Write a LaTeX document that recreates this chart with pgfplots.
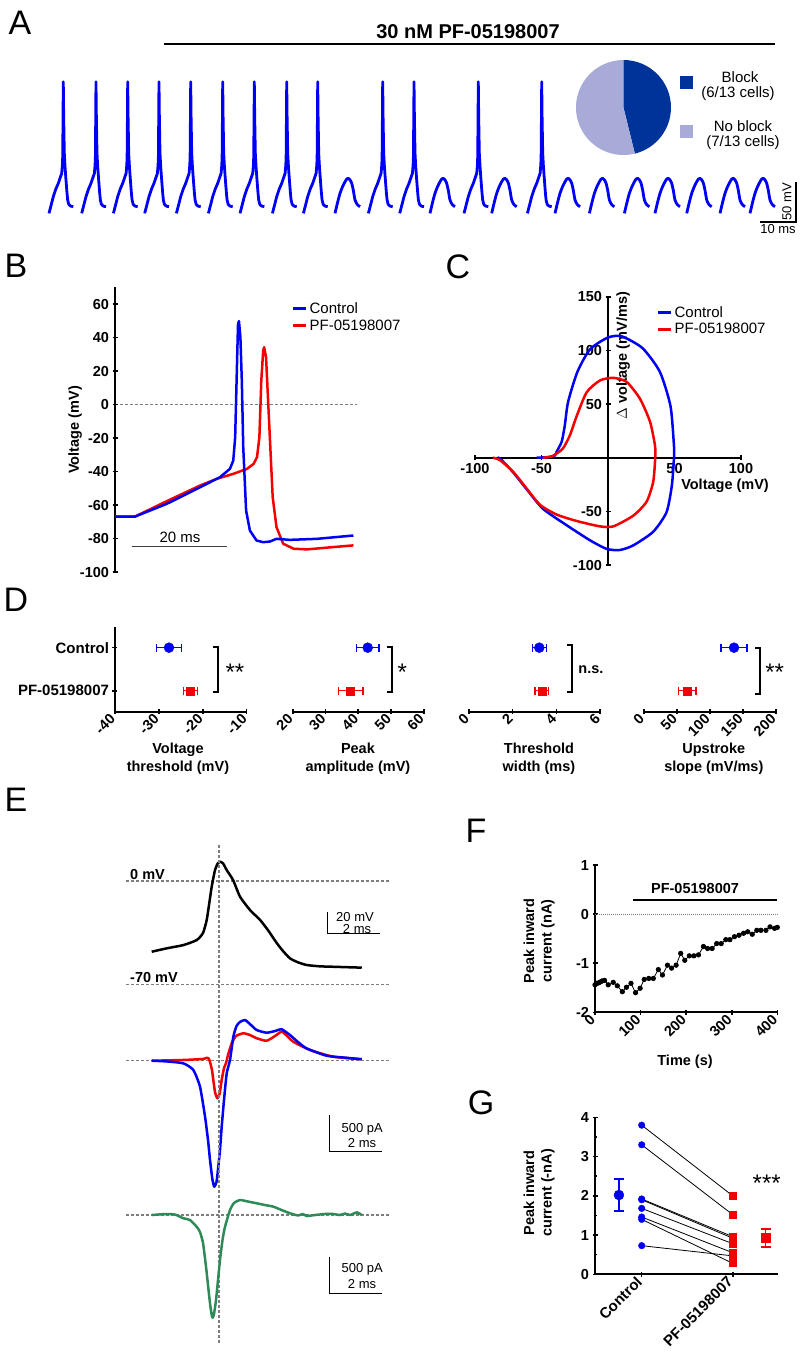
\documentclass[border=0pt]{standalone}
\usepackage{fontspec}
\setmainfont{Liberation Sans}
\usepackage{pgfplots}
\usepackage{pgfplotstable}
\pgfplotsset{compat=1.18}

% colours
\definecolor{ctrl}{RGB}{0,0,245}
\definecolor{drug}{RGB}{245,0,0}
\definecolor{blockc}{RGB}{0,51,153}
\definecolor{noblockc}{RGB}{168,170,216}
\definecolor{diffc}{RGB}{46,139,87}
\definecolor{dgray}{RGB}{125,125,125}

\newcommand{\tickf}{\bfseries\fontsize{14.5}{17}\selectfont}
\newcommand{\labf}{\bfseries\fontsize{14.5}{17.5}\selectfont}
\newcommand{\legf}{\fontsize{15}{18}\selectfont}
\newcommand{\smallf}{\fontsize{13}{15}\selectfont}
\newcommand{\panf}{\fontsize{34}{36}\selectfont}
\newcommand{\starf}{\fontsize{24}{26}\selectfont}

\pgfplotsset{
  panel/.style={
    scale only axis, anchor=south west, clip=false,
    axis line style={line width=2pt,-},
    every non boxed x axis/.append style={x axis line style={-}},
    every non boxed y axis/.append style={y axis line style={-}},
    tick style={line width=1.6pt,black},
    major tick length=5pt,
    tick align=outside,
    ticklabel style={font=\tickf},
    label style={font=\labf},
    /pgf/number format/assume math mode=true,
  },
  noarrow/.style={axis line style={-}, x axis line style={-}, y axis line style={-}},
  trace/.style={line width=2.5pt, line join=round, mark=none},
  legline/.style={
    legend style={draw=none, fill=none, font=\legf, inner sep=0pt,
      row sep=1pt, anchor=north west},
    legend cell align=left,
    legend image code/.code={\draw[##1, line width=2.5pt] (0pt,0pt) -- (13pt,0pt);},
  },
  dstat/.style={
    error bars/.cd, x dir=both, x explicit,
    error bar style={line width=1.5pt},
    error mark options={line width=1.5pt, mark size=4pt, rotate=90},
  },
  gstat/.style={
    error bars/.cd, y dir=both, y explicit,
    error bar style={line width=1.5pt},
    error mark options={line width=1.5pt, mark size=5pt, rotate=90},
  },
}

% one action potential and one failed spike, (ms, mV) from the start of the sweep
\pgfplotstableread{
t v
0 -70.4
0.6 -60
1.19 -49.6
1.9 -40
2.58 -32.9
3.1 -26
3.53 -20.4
3.72 -10
3.81 0.4
3.9 50
3.97 94.1
4.08 50
4.25 5
4.45 -12
4.72 -28.75
5.0 -45
5.19 -53.75
5.45 -58.5
5.64 -60
6.1 -61.5
6.75 -62.1
}\spiketab
\pgfplotstableread{
t v
0 -70.4
0.7 -57
1.39 -45.4
2.1 -37
2.78 -30.9
3.25 -27.5
3.69 -26.6
4.15 -28.5
4.64 -32.9
5.1 -42
5.56 -53.75
6.2 -59.5
6.94 -62.1
}\bumptab

\begin{document}
\begin{tikzpicture}
\useasboundingbox (0pt,0pt) rectangle (800pt,-1369pt);

% panel letters and title
\node[font=\panf] at (20pt,-23pt) {A};
\node[font=\panf] at (16pt,-266pt) {B};
\node[font=\panf] at (458pt,-267pt) {C};
\node[font=\panf] at (16pt,-600pt) {D};
\node[font=\panf] at (16pt,-800pt) {E};
\node[font=\panf] at (476pt,-831pt) {F};
\node[font=\panf] at (481pt,-1103pt) {G};
\node[font=\bfseries\fontsize{20}{22}\selectfont] at (468pt,-32pt) {30 nM PF-05198007};

% ---------------- A
\begin{axis}[panel, hide axis, at={(0pt,-230pt)}, width=800pt, height=170pt,
  xmin=0, xmax=222.22, ymin=-91.25, ymax=121.25]
\pgfplotsinvokeforeach{13.61,22.69,31.5,40.19,49,57.89,66.67,75.67,84.28,102.33,111.03,128.89,146.5}{
  \addplot[trace, ctrl, line width=2.8pt] table[x expr=\thisrow{t}+#1, y=v]{\spiketab};
}
\pgfplotsinvokeforeach{93.06,119.44,136.58,154.17,163.72,173.44,181.94,190.75,200,208.33}{
  \addplot[trace, ctrl, line width=2.8pt, smooth] table[x expr=\thisrow{t}+#1, y=v]{\bumptab};
}
\draw[line width=2.5pt] (axis cs:45.56,141.25) -- (axis cs:215.28,141.25);
% pie: 6 of 13 cells blocked
\fill[blockc] (axis cs:173.19,61.875) -- ++(90:47.5pt) arc[start angle=90, end angle=-76.15, radius=47.5pt] -- cycle;
\fill[noblockc] (axis cs:173.19,61.875) -- ++(-76.15:47.5pt) arc[start angle=-76.15, end angle=-270, radius=47.5pt] -- cycle;
\fill[blockc] (axis cs:188.89,101.25) rectangle (axis cs:192.5,85);
\fill[noblockc] (axis cs:188.89,40) rectangle (axis cs:192.5,23.75);
\node[font=\legf] at (axis cs:205.56,100) {Block};
\node[font=\legf] at (axis cs:205,78.75) {(6/13 cells)};
\node[font=\legf] at (axis cs:206.4,38.75) {No block};
\node[font=\legf] at (axis cs:206.4,17.5) {(7/13 cells)};
% scale bars
\draw[line width=1.3pt] (axis cs:211.1,-81.25) -- (axis cs:221.1,-81.25) -- (axis cs:221.1,-31.25);
\node[font=\smallf, rotate=90] at (axis cs:218.6,-56.25) {50 mV};
\node[font=\smallf] at (axis cs:216.1,-89.5) {10 ms};
\end{axis}

% ---------------- B
\begin{axis}[panel, legline, at={(115pt,-572pt)}, width=242pt, height=284.75pt,
  xmin=0, xmax=50.95, ymin=-100, ymax=70,
  axis x line=none, axis y line=left,
  ytick={-100,-80,-60,-40,-20,0,20,40,60},
  yticklabels={-100,-80,-60,-40,-20,0,20,40,60},
  ylabel={Voltage (mV)},
  every axis y label/.style={at={(axis description cs:-0.165,0.499)}, rotate=90, anchor=center, font=\labf},
  legend style={at={(axis description cs:0.731,0.955)}}, noarrow]
\addplot[forget plot, dashed, dash pattern=on 3pt off 2pt, line width=1.2pt, dgray] coordinates {(1.05,0) (50.95,0)};
\addplot[forget plot, trace, drug] coordinates {
(0,-66.9)(4.21,-66.9)(10.9,-57.7)(17.9,-48.4)(21.4,-44.4)(24.9,-41.4)(27.8,-38.4)(29.2,-35.4)(29.9,-31.4)(30.4,-19.5)(30.8,14.3)(31.2,32.2)(31.4,34.2)(31.8,28.3)(32.2,4.4)(32.7,-25.5)(33.2,-55.3)(34.0,-73.2)(35.4,-83.1)(37.6,-86.1)(40.4,-86.5)(46.0,-85.1)(50.2,-84.1)};
\addplot[forget plot, trace, ctrl] coordinates {
(0,-66.9)(4.21,-66.9)(10.9,-59.3)(17.9,-49.4)(22.1,-43.4)(24.2,-38.4)(24.9,-33.4)(25.3,-19.5)(25.6,14.3)(25.9,48.2)(26.1,49.8)(26.4,40.2)(26.7,14.3)(27.0,-25.5)(27.6,-63.3)(28.4,-75.2)(29.8,-81.2)(31.2,-82.2)(32.6,-81.8)(34.0,-80.2)(36.8,-80.8)(42.5,-80.2)(50.2,-78.2)};
\draw[line width=1.2pt, black!75] (axis cs:3.58,-84.8) -- (axis cs:23.58,-84.8);
\node[font=\legf] at (axis cs:13.7,-79.2) {20 ms};
\addlegendimage{ctrl}\addlegendentry{Control}
\addlegendimage{drug}\addlegendentry{PF-05198007}
\end{axis}

% ---------------- C
\begin{axis}[panel, legline, at={(475pt,-565pt)}, width=266pt, height=268.3pt,
  xmin=-100, xmax=100, ymin=-100, ymax=150, axis lines=middle,
  xtick={-100,-50,50,100}, xticklabels={-100,-50,50,100},
  ytick={-100,-50,50,100,150}, yticklabels={-100,-50,50,100,150},
  legend style={at={(axis description cs:0.684,0.973)}}, noarrow]
\node[font=\labf, rotate=90] at (axis cs:11.3,95) {$\Delta$ voltage (mV/ms)};
\node[font=\labf] at (axis cs:88,-26) {Voltage (mV)};
\addplot[forget plot, trace, ctrl, smooth, tension=0.4] coordinates {
(-53.6,0)(-45,0.5)(-40,2)(-38.6,5.6)(-34.8,15)(-32.5,30)(-30,52)(-23,80)(-13.5,101)(0,112)(10.5,113)(26,102)(39,80)(47,48)(49.6,11)(49.6,0)(48,-26)(44,-50.8)(34,-69)(19,-81.7)(9,-86)(-1,-85)(-13.5,-77)(-31,-63)(-49,-47.5)(-61.4,-29)(-71.5,-13.4)(-81,-1)(-83,0)};
\addplot[forget plot, trace, drug, smooth, tension=0.4] coordinates {
(-49,0)(-45,0.5)(-41,2)(-34,8.4)(-28.6,21)(-23.5,39)(-16,61)(-6,72)(4,74.4)(14,70.6)(24,55)(31.6,33.5)(35.3,11.5)(35.5,0)(34,-22.4)(29,-41)(19,-54)(4,-64)(-6,-64)(-23.5,-59)(-38.6,-53)(-51,-44)(-61,-29)(-71.4,-13)(-81,-2.5)(-86.5,0)};
\addlegendimage{ctrl}\addlegendentry{Control}
\addlegendimage{drug}\addlegendentry{PF-05198007}
\end{axis}

% ---------------- D
\begin{axis}[panel, at={(115pt,-711.7pt)}, width=131.7pt, height=84.7pt,
  xmin=-40, xmax=-10, ymin=-0.488, ymax=1.48,
  axis x line=bottom, axis y line=left,
  xtick={-40,-30,-20,-10}, xticklabels={-40,-30,-20,-10},
  ytick={0,1}, yticklabels={PF-05198007,Control},
  xticklabel style={rotate=45, anchor=east},
  yticklabel style={font=\bfseries\fontsize{15}{17}\selectfont},
  xlabel={Voltage\\threshold (mV)},
  every axis x label/.style={at={(axis description cs:0.478,-0.553)}, anchor=center, align=center, font=\labf}, noarrow]
\addplot[ctrl, mark=*, mark size=5pt, only marks, dstat] coordinates {(-27.7,1) +- (2.9,0)};
\addplot[drug, mark=square*, mark size=4pt, only marks, dstat] coordinates {(-22.8,0) +- (1.6,0)};
\draw[line width=2pt] (axis cs:-17.6,1.02) -- (axis cs:-16.5,1.02) -- (axis cs:-16.5,-0.02) -- (axis cs:-17.6,-0.02);
\node[font=\starf] at (axis cs:-12.7,0.42) {**};
\end{axis}

\begin{axis}[panel, at={(292.7pt,-711.7pt)}, width=131pt, height=84.7pt,
  xmin=20, xmax=60, ymin=-0.488, ymax=1.48,
  axis x line=bottom, axis y line=none, ytick=\empty,
  xtick={20,30,40,50,60}, xticklabels={20,30,40,50,60},
  xticklabel style={rotate=45, anchor=east},
  xlabel={Peak\\amplitude (mV)},
  every axis x label/.style={at={(axis description cs:0.498,-0.553)}, anchor=center, align=center, font=\labf}, noarrow]
\addplot[ctrl, mark=*, mark size=5pt, only marks, dstat] coordinates {(42.9,1) +- (3.4,0)};
\addplot[drug, mark=square*, mark size=4pt, only marks, dstat] coordinates {(37.7,0) +- (3.7,0)};
\draw[line width=2pt] (axis cs:48.8,1.02) -- (axis cs:50.3,1.02) -- (axis cs:50.3,-0.02) -- (axis cs:48.8,-0.02);
\node[font=\starf] at (axis cs:53.5,0.42) {*};
\end{axis}

\begin{axis}[panel, at={(469pt,-711.7pt)}, width=131pt, height=84.7pt,
  xmin=0, xmax=6, ymin=-0.488, ymax=1.48,
  axis x line=bottom, axis y line=none, ytick=\empty,
  xtick={0,2,4,6}, xticklabels={0,2,4,6},
  xticklabel style={rotate=45, anchor=east},
  xlabel={Threshold\\width (ms)},
  every axis x label/.style={at={(axis description cs:0.534,-0.553)}, anchor=center, align=center, font=\labf}, noarrow]
\addplot[ctrl, mark=*, mark size=5pt, only marks, dstat] coordinates {(3.22,1) +- (0.32,0)};
\addplot[drug, mark=square*, mark size=4pt, only marks, dstat] coordinates {(3.33,0) +- (0.3,0)};
\draw[line width=2pt] (axis cs:4.47,1.06) -- (axis cs:4.7,1.06) -- (axis cs:4.7,-0.02) -- (axis cs:4.47,-0.02);
\node[font=\labf, anchor=west] at (axis cs:4.85,0.5) {n.s.};
\end{axis}

\begin{axis}[panel, at={(644pt,-711.7pt)}, width=131.7pt, height=84.7pt,
  xmin=0, xmax=200, ymin=-0.488, ymax=1.48,
  axis x line=bottom, axis y line=none, ytick=\empty,
  xtick={0,50,100,150,200}, xticklabels={0,50,100,150,200},
  xticklabel style={rotate=45, anchor=east},
  xlabel={Upstroke\\slope (mV/ms)},
  every axis x label/.style={at={(axis description cs:0.53,-0.553)}, anchor=center, align=center, font=\labf}, noarrow]
\addplot[ctrl, mark=*, mark size=5pt, only marks, dstat] coordinates {(136.7,1) +- (20,0)};
\addplot[drug, mark=square*, mark size=4pt, only marks, dstat] coordinates {(65.8,0) +- (13.5,0)};
\draw[line width=2pt] (axis cs:168.7,1.0) -- (axis cs:176.3,1.0) -- (axis cs:176.3,-0.077) -- (axis cs:168.7,-0.077);
\node[font=\starf, anchor=west] at (axis cs:179,0.42) {**};
\end{axis}

% ---------------- E, voltage
\begin{axis}[panel, hide axis, at={(126pt,-991.7pt)}, width=263pt, height=140.2pt,
  xmin=-3.577, xmax=6.538, ymin=-75, ymax=20]
\addplot[dashed, dash pattern=on 3pt off 2pt, line width=1.4pt, dgray] coordinates {(-3.577,0) (6.538,0)};
\addplot[dashed, dash pattern=on 3pt off 2pt, line width=1.4pt, dgray] coordinates {(-3.577,-70) (6.538,-70)};
\addplot[trace, black, smooth, tension=0.35] coordinates {
(-2.588,-47.9)(-2.01,-45.6)(-1.37,-43.4)(-0.858,-40)(-0.615,-35.2)(-0.473,-26.4)(-0.385,-16.3)(-0.281,-3.9)(-0.154,7.45)(-0.04,12.2)(0.038,13.1)(0.154,12)(0.296,7.45)(0.54,0.7)(0.808,-10.6)(1.19,-19.6)(1.58,-26.4)(1.88,-33.2)(2.22,-42)(2.46,-47.4)(2.73,-52.4)(3.04,-55.1)(3.37,-56.9)(3.88,-57.8)(4.4,-58.1)(5.49,-58.7)};
\node[font=\labf, anchor=base west] at (axis cs:-3.55,1.1) {0 mV};
\node[font=\labf, anchor=base west] at (axis cs:-3.55,-68.6) {-70 mV};
\draw[line width=1.2pt] (axis cs:4.18,-20.8) -- (axis cs:4.18,-35.4) -- (axis cs:6.19,-35.4);
\node[font=\smallf] at (axis cs:5.23,-24.2) {20 mV};
\node[font=\smallf] at (axis cs:5.31,-32.2) {2 ms};
\end{axis}

% ---------------- E, currents
\begin{axis}[panel, hide axis, at={(126pt,-1192.8pt)}, width=263pt, height=190.8pt,
  xmin=-3.577, xmax=6.538, ymin=-0.9, ymax=0.4]
\addplot[dashed, dash pattern=on 3pt off 2pt, line width=1.4pt, dgray] coordinates {(-3.577,0) (6.538,0)};
\addplot[trace, drug, smooth, tension=0.35] coordinates {
(-2.588,0)(-1.37,0.005)(-0.615,0.012)(-0.473,0.02)(-0.396,0.015)(-0.346,-0.009)(-0.27,-0.063)(-0.219,-0.131)(-0.154,-0.213)(-0.065,-0.256)(0.02,-0.227)(0.104,-0.131)(0.192,-0.05)(0.27,-0.016)(0.346,0.039)(0.488,0.119)(0.654,0.168)(0.935,0.187)(1.19,0.175)(1.45,0.153)(1.83,0.136)(2.15,0.168)(2.41,0.198)(2.62,0.168)(2.86,0.129)(3.5,0.073)(4.4,0.027)(5.49,0.01)};
\addplot[trace, ctrl, smooth, tension=0.35] coordinates {
(-2.588,0)(-2.01,-0.005)(-1.37,-0.018)(-0.988,-0.063)(-0.731,-0.177)(-0.538,-0.381)(-0.423,-0.54)(-0.346,-0.676)(-0.25,-0.813)(-0.181,-0.858)(-0.096,-0.826)(-0.027,-0.722)(0.038,-0.608)(0.104,-0.45)(0.192,-0.268)(0.296,-0.086)(0.423,0.005)(0.55,0.163)(0.673,0.236)(0.808,0.264)(1.0,0.277)(1.19,0.25)(1.45,0.209)(1.83,0.191)(2.15,0.202)(2.41,0.214)(2.73,0.175)(3.04,0.127)(3.37,0.084)(4.14,0.034)(4.91,0.02)(5.49,0.01)};
\draw[line width=1.2pt] (axis cs:4.24,-0.37) -- (axis cs:4.24,-0.62) -- (axis cs:6.26,-0.62);
\node[font=\smallf] at (axis cs:5.51,-0.467) {500 pA};
\node[font=\smallf] at (axis cs:5.5,-0.56) {2 ms};
\end{axis}

% ---------------- E, difference current
\begin{axis}[panel, hide axis, at={(126pt,-1347.1pt)}, width=263pt, height=154.1pt,
  xmin=-3.577, xmax=6.538, ymin=-0.9, ymax=0.15]
\addplot[dashed, dash pattern=on 3pt off 2pt, line width=1.4pt, dgray] coordinates {(-3.577,0) (6.538,0)};
\addplot[dashed, dash pattern=on 3pt off 2pt, line width=1.4pt, dgray] coordinates {(0,-0.872) (0,2.52)};
\addplot[trace, diffc, smooth, tension=0.35] coordinates {
(-2.588,0)(-2.01,0.007)(-1.69,0.003)(-1.37,-0.022)(-1.115,-0.034)(-0.858,-0.08)(-0.731,-0.116)(-0.615,-0.191)(-0.5,-0.352)(-0.423,-0.477)(-0.346,-0.601)(-0.288,-0.674)(-0.242,-0.7)(-0.192,-0.674)(-0.115,-0.579)(-0.038,-0.443)(0.038,-0.307)(0.135,-0.17)(0.231,-0.08)(0.423,0.034)(0.577,0.082)(0.808,0.102)(1.115,0.092)(1.45,0.08)(1.77,0.068)(2.09,0.057)(2.41,0.034)(2.73,0.012)(3.04,-0.003)(3.23,0.007)(3.37,-0.007)(3.69,0)(4.08,0.007)(4.4,0.007)(4.65,0)(4.85,0.01)(5.04,0)(5.3,0.018)(5.49,0)};
\draw[line width=1.2pt] (axis cs:4.24,-0.284) -- (axis cs:4.24,-0.533) -- (axis cs:6.26,-0.533);
\node[font=\smallf] at (axis cs:5.51,-0.37) {500 pA};
\node[font=\smallf] at (axis cs:5.5,-0.47) {2 ms};
\end{axis}

% ---------------- F
\begin{axis}[panel, at={(595pt,-1012.3pt)}, width=182.3pt, height=147.3pt,
  xmin=0, xmax=400, ymin=-2, ymax=1,
  axis x line=bottom, axis y line=left,
  xtick={0,100,200,300,400}, xticklabels={0,100,200,300,400},
  ytick={-2,-1,0,1}, yticklabels={-2,-1,0,1},
  xticklabel style={rotate=45, anchor=east},
  xlabel={Time (s)},
  every axis x label/.style={at={(axis description cs:0.494,-0.335)}, anchor=center, font=\labf},
  ylabel={Peak inward\\current (nA)},
  every axis y label/.style={at={(axis description cs:-0.307,0.484)}, rotate=90, anchor=center, align=center, font=\labf}, noarrow]
\addplot[densely dotted, line width=1pt, dgray] coordinates {(0,0) (400,0)};
\addplot[black, line width=0.8pt, mark=*, mark size=2.2pt] coordinates {
(0,-1.44)(4,-1.41)(8,-1.40)(12,-1.38)(16,-1.36)(21,-1.35)(29,-1.44)(40,-1.39)(49,-1.46)(60,-1.58)(69,-1.49)(79,-1.41)(89,-1.60)(99,-1.51)(108,-1.33)(118,-1.31)(128,-1.31)(139,-1.13)(148,-1.24)(159,-1.04)(168,-1.10)(178,-1.04)(188,-0.80)(197,-0.94)(207,-0.85)(217,-0.85)(227,-0.83)(238,-0.66)(247,-0.70)(257,-0.70)(267,-0.60)(277,-0.60)(287,-0.52)(296,-0.52)(306,-0.46)(316,-0.43)(326,-0.39)(335,-0.36)(345,-0.41)(355,-0.33)(364,-0.33)(375,-0.33)(384,-0.26)(394,-0.29)(400,-0.27)};
\draw[line width=2.5pt] (axis cs:84,0.285) -- (axis cs:400,0.285);
\node[font=\labf] at (axis cs:219.5,0.53) {PF-05198007};
\end{axis}

% ---------------- G
\begin{axis}[panel, at={(595pt,-1274.3pt)}, width=183.3pt, height=157pt,
  xmin=0.487, xmax=2.501, ymin=0, ymax=4,
  axis x line=bottom, axis y line=left,
  xtick={1,2}, xticklabels={Control,PF-05198007},
  ytick={0,1,2,3,4}, yticklabels={0,1,2,3,4},
  minor ytick={0.5,1.5,2.5,3.5}, minor tick length=3pt,
  xticklabel style={rotate=45, anchor=east, font=\bfseries\fontsize{15}{17}\selectfont},
  ylabel={Peak inward\\current (-nA)},
  every axis y label/.style={at={(axis description cs:-0.305,0.518)}, rotate=90, anchor=center, align=center, font=\labf}, noarrow]
\addplot[black, line width=0.8pt] coordinates {(1,3.80) (2,2.00)};
\addplot[black, line width=0.8pt] coordinates {(1,3.30) (2,1.52)};
\addplot[black, line width=0.8pt] coordinates {(1,1.92) (2,0.96)};
\addplot[black, line width=0.8pt] coordinates {(1,1.90) (2,0.92)};
\addplot[black, line width=0.8pt] coordinates {(1,1.68) (2,0.78)};
\addplot[black, line width=0.8pt] coordinates {(1,1.46) (2,0.55)};
\addplot[black, line width=0.8pt] coordinates {(1,1.40) (2,0.28)};
\addplot[black, line width=0.8pt] coordinates {(1,0.73) (2,0.47)};
\addplot[ctrl, only marks, mark=*, mark size=3.3pt] coordinates {(1,3.80)(1,3.30)(1,1.92)(1,1.90)(1,1.68)(1,1.46)(1,1.40)(1,0.73)};
\addplot[drug, only marks, mark=square*, mark size=3.3pt] coordinates {(2,2.00)(2,1.52)(2,0.96)(2,0.92)(2,0.78)(2,0.55)(2,0.28)(2,0.47)};
\addplot[ctrl, only marks, mark=*, mark size=5pt, gstat] coordinates {(0.75,2.02) +- (0,0.41)};
\addplot[drug, only marks, mark=square*, mark size=4.5pt, gstat] coordinates {(2.363,0.93) +- (0,0.23)};
\node[font=\starf] at (axis cs:2.374,2.33) {***};
\end{axis}
\end{tikzpicture}
\end{document}
